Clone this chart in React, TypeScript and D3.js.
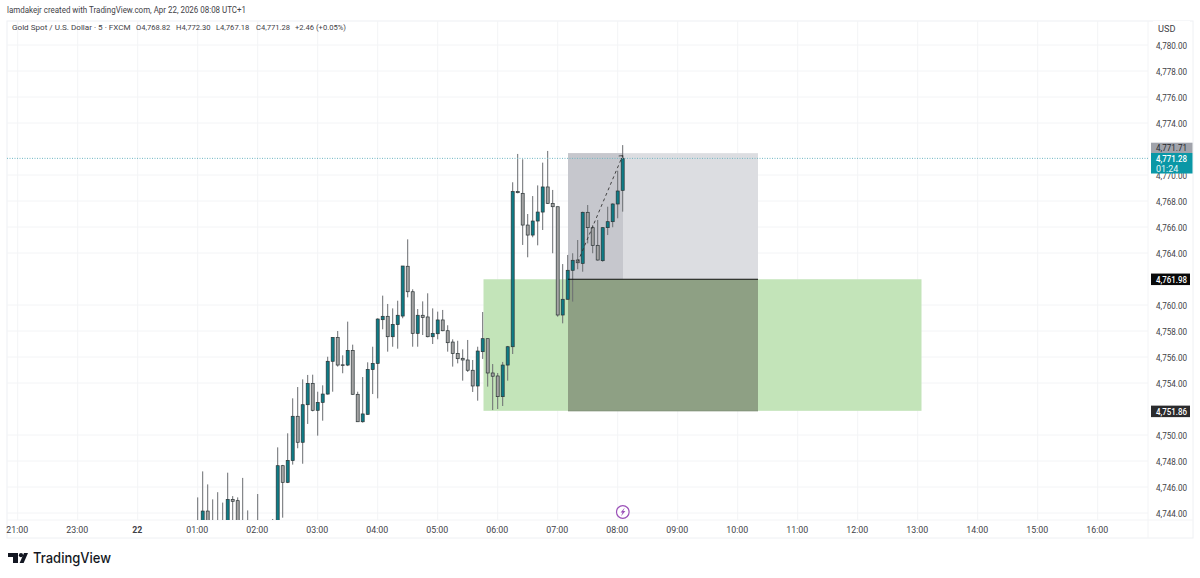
import React from "react";
import * as d3 from "d3";

const opens = [4742.9,4742.5,4744.15,4743.2,4743.1,4743.0,4743.0,4745.05,4744.95,4743.0,4743.0,4743.0,4743.1,4742.9,4742.8,4742.9,4742.9,4747.64,4746.36,4748.03,4751.44,4749.44,4752.33,4753.97,4751.9,4752.51,4753.15,4755.67,4757.5,4755.4,4755.38,4756.51,4753.13,4751.02,4751.59,4755.03,4755.51,4758.87,4759.13,4757.56,4758.49,4759.15,4762.98,4761.02,4757.82,4759.21,4759.08,4757.56,4757.79,4758.85,4758.02,4757.15,4756.28,4755.9,4755.77,4754.98,4753.77,4756.41,4757.41,4754.77,4754.54,4752.95,4755.38,4756.79,4768.72,4768.59,4766.15,4765.38,4766.46,4767.15,4769.08,4767.82,4767.56,4759.23,4760.44,4762.67,4763.46,4763.2,4767.13,4765.95,4764.59,4763.41,4765.95,4766.41,4767.77,4768.82];
const highs = [4745.2,4747.2,4746.2,4745.05,4745.6,4744.8,4747.1,4745.3,4745.2,4746.7,4744.2,4743.2,4745.46,4743.2,4743.1,4743.54,4749.05,4747.7,4750.13,4752.82,4753.69,4754.28,4754.62,4754.64,4753.33,4753.82,4756.02,4757.52,4758.0,4756.13,4758.72,4756.95,4753.33,4754.46,4755.59,4756.79,4758.98,4760.72,4760.08,4759.74,4760.33,4763.0,4765.05,4761.21,4759.69,4760.28,4760.9,4759.74,4759.49,4759.62,4758.44,4757.36,4757.25,4756.59,4757.31,4755.77,4756.79,4759.46,4757.41,4755.46,4754.77,4755.62,4756.85,4769.44,4771.62,4771.21,4767.0,4768.38,4769.2,4770.95,4771.85,4768.85,4767.56,4763.15,4763.85,4763.98,4765.0,4767.18,4767.69,4766.15,4766.54,4765.98,4767.56,4767.82,4770.33,4772.3];
const lows = [4742.0,4742.0,4742.0,4742.5,4742.4,4742.3,4742.5,4742.8,4742.4,4742.3,4742.5,4742.4,4742.5,4742.4,4742.3,4742.4,4742.5,4743.64,4746.3,4747.72,4748.98,4747.79,4750.85,4751.82,4749.95,4751.1,4753.1,4753.33,4755.26,4754.75,4755.3,4753.1,4751.0,4750.95,4751.55,4753.15,4752.82,4758.13,4756.41,4756.79,4756.64,4758.98,4760.59,4756.79,4756.79,4757.69,4757.51,4757.0,4757.36,4757.98,4756.41,4755.26,4755.51,4754.18,4754.85,4753.31,4752.64,4755.85,4753.72,4751.92,4752.0,4752.23,4754.18,4756.23,4768.59,4764.62,4763.67,4765.21,4764.59,4765.77,4767.77,4763.98,4759.1,4758.59,4760.44,4760.26,4762.75,4762.56,4764.74,4763.98,4763.41,4763.33,4765.38,4765.98,4766.67,4767.18];
const closes = [4742.5,4744.15,4742.6,4742.9,4742.8,4742.7,4745.05,4744.9,4742.9,4742.7,4742.8,4742.8,4742.8,4742.6,4742.6,4742.7,4747.64,4746.36,4748.05,4751.44,4749.44,4752.33,4753.97,4751.9,4752.51,4753.15,4755.67,4757.5,4755.38,4755.35,4756.51,4753.13,4751.02,4751.62,4755.05,4755.51,4758.92,4759.13,4757.56,4758.51,4759.21,4763.0,4761.02,4757.82,4759.21,4759.05,4757.56,4757.82,4758.85,4758.02,4757.1,4756.26,4755.87,4755.77,4754.98,4753.77,4756.46,4757.41,4754.77,4754.52,4752.95,4755.38,4756.79,4768.72,4768.64,4766.15,4765.38,4766.46,4767.15,4769.08,4767.82,4767.56,4759.23,4760.44,4762.67,4763.44,4763.25,4767.13,4765.95,4764.59,4763.46,4765.95,4766.41,4767.77,4768.77,4771.28];

const priceTicks = [4780,4778,4776,4774,4770,4768,4766,4764,4760,4758,4756,4754,4750,4748,4746,4744];
const timeTicks: [number, string, boolean][] = [
  [-36,"21:00",false],[-24,"23:00",false],[-12,"22",true],[0,"01:00",false],[12,"02:00",false],[24,"03:00",false],
  [36,"04:00",false],[48,"05:00",false],[60,"06:00",false],[72,"07:00",false],[84,"08:00",false],[96,"09:00",false],
  [108,"10:00",false],[120,"11:00",false],[132,"12:00",false],[144,"13:00",false],[156,"14:00",false],[168,"15:00",false],[180,"16:00",false],
];
const legendValues: [number, string][] = [[136,"O4,768.82"],[176,"H4,772.30"],[216,"L4,767.18"],[256,"C4,771.28"],[295,"+2.46 (+0.05%)"]];

const lastPrice = 4771.28;
const markerPrice = 4771.71;
const entryPrice = 4761.98;
const stopPrice = 4751.86;
const zoneTop = 4771.68;
const arrowFrom: [number, number] = [76, 4763.3];
const arrowTo: [number, number] = [85, 4771.5];

const x = d3.scaleLinear().domain([0, 85]).range([197.7, 622.7]);
const y = d3.scaleLinear().domain([4780, 4744]).range([45, 513]);
const fmt = d3.format(",.2f");

const FONT = "Roboto, 'Noto Sans', sans-serif";
const TEXT = "#3f4247";
const LABEL_W = 31;

export default function App() {
  const left = 7, right = 1148, top = 21, paneBottom = 520, frameBottom = 538;
  const priceText = (p: number, fill: string, yy: number, weight = 400) => (
    <text x={1156} y={yy} fontSize={9} fontWeight={weight} fill={fill} textLength={LABEL_W} lengthAdjust="spacingAndGlyphs">{fmt(p)}</text>
  );
  return (
    <svg width={1200} height={578} viewBox="0 0 1200 578"
      style={{ position: "absolute", left: 0, top: 0, display: "block", background: "#fff" }} fontFamily={FONT}>
      <defs>
        <clipPath id="pane"><rect x={left} y={top} width={right - left} height={paneBottom - top} /></clipPath>
      </defs>

      <text x={7} y={13} fontSize={9.2} fill={TEXT} textLength={239} lengthAdjust="spacingAndGlyphs">lamdakejr created with TradingView.com, Apr 22, 2026 08:08 UTC+1</text>

      {/* frame */}
      <rect x={left} y={top} width={1193 - left} height={frameBottom - top} fill="none" stroke="#eef0f3" />
      <line x1={right} x2={right} y1={top} y2={frameBottom} stroke="#f3f4f6" />
      <line x1={left} x2={1193} y1={paneBottom} y2={paneBottom} stroke="#f3f4f6" />

      {/* grid */}
      {priceTicks.map(p => <line key={p} x1={left} x2={right} y1={y(p)} y2={y(p)} stroke="#f3f4f6" />)}
      {timeTicks.map(([i, l]) => <line key={l} x1={x(i)} x2={x(i)} y1={top} y2={paneBottom} stroke="#f3f4f6" />)}

      {/* position tools */}
      <rect x={483.5} y={y(entryPrice)} width={438} height={y(stopPrice) - y(entryPrice)} fill="#c3e4b9" />
      <rect x={568} y={y(zoneTop)} width={190} height={y(entryPrice) - y(zoneTop)} fill="#dcdde1" />
      <rect x={568} y={y(zoneTop)} width={55} height={y(entryPrice) - y(zoneTop)} fill="#c6c7cd" />
      <rect x={568} y={y(entryPrice)} width={190} height={y(stopPrice) - y(entryPrice)} fill="#8ea084" />
      <line x1={568} x2={758} y1={y(stopPrice)} y2={y(stopPrice)} stroke="#7f8f77" />

      {/* candles */}
      <g clipPath="url(#pane)">
        {opens.map((o, i) => {
          const c = closes[i], up = c >= o;
          const t = y(Math.max(o, c)), b = y(Math.min(o, c));
          return (
            <g key={i}>
              <line x1={x(i)} x2={x(i)} y1={y(highs[i])} y2={y(lows[i])} stroke="#6a6d70" strokeWidth={1} />
              <rect x={x(i) - 1.5} y={t} width={3} height={Math.max(b - t, 0.8)}
                fill={up ? "#0e7c86" : "#a4a4a4"} stroke="#2a3335" strokeWidth={0.7} />
            </g>
          );
        })}
      </g>

      <line x1={568} x2={758} y1={y(entryPrice)} y2={y(entryPrice)} stroke="#111" strokeWidth={1} />

      {/* dashed arrow */}
      <line x1={x(arrowFrom[0])} y1={y(arrowFrom[1])} x2={x(arrowTo[0])} y2={y(arrowTo[1])}
        stroke="#333" strokeWidth={0.9} strokeDasharray="3 3" />
      <path d={`M${x(arrowTo[0]) - 4},${y(arrowTo[1]) + 0.5} L${x(arrowTo[0])},${y(arrowTo[1])} L${x(arrowTo[0]) + 0.5},${y(arrowTo[1]) + 4}`}
        fill="none" stroke="#333" strokeWidth={0.8} />

      {/* last price line */}
      <line x1={left} x2={right} y1={y(lastPrice)} y2={y(lastPrice)} stroke="#6fb6c2" strokeWidth={1} strokeDasharray="1 1.5" />

      {/* legend */}
      <text x={12} y={30.2} fontSize={8.1} fill={TEXT}>Gold Spot / U.S. Dollar · 5 · FXCM</text>
      {legendValues.map(([px, s]) => <text key={s} x={px} y={30.2} fontSize={7.6} fill={TEXT}>{s}</text>)}

      {/* price axis */}
      <rect x={1153} y={21} width={37} height={15} fill="#fff" />
      <text x={1158} y={32} fontSize={9.2} fill={TEXT}>USD</text>
      {priceTicks.map(p => <React.Fragment key={p}>{priceText(p, TEXT, y(p) + 4.2)}</React.Fragment>)}

      <rect x={1151} y={142.7} width={41.5} height={10.3} fill="#a0a3ab" />
      {priceText(markerPrice, "#26282c", 151.2)}
      <rect x={1151} y={153} width={41.5} height={20.5} fill="#0a97a6" />
      {priceText(lastPrice, "#fff", 161.6, 500)}
      <text x={1156} y={171.5} fontSize={9} fill="#e6f6f8">01:24</text>

      <rect x={1151} y={y(entryPrice) - 5.7} width={39} height={11.5} fill="#0a0a0a" />
      {priceText(entryPrice, "#fff", y(entryPrice) + 3.6, 500)}
      <rect x={1151} y={y(stopPrice) - 5.2} width={39} height={11.5} fill="#2b2b2d" />
      {priceText(stopPrice, "#fff", y(stopPrice) + 3.9, 500)}

      {/* time axis */}
      {timeTicks.map(([i, l, bold]) => (
        <text key={l} x={x(i) - 0.4} y={532.5} textAnchor="middle" fontSize={8.8} fontWeight={bold ? 700 : 400} fill={TEXT}>{l}</text>
      ))}

      {/* event marker */}
      <circle cx={622.8} cy={512} r={6.3} fill="#fff" stroke="#9b51b8" strokeWidth={1.2} />
      <path d="M624.8,507.6 L620.6,512.6 L622.6,512.6 L621,516.2 L625.4,511 L623.2,511 Z" fill="#9b51b8" />

      {/* logo */}
      <path d="M8,553 H18 V563 H13 V557 H8 Z" fill="#131722" />
      <circle cx={21} cy={555.2} r={2.1} fill="#131722" />
      <path d="M24,553 H28 L23.6,563 H19.6 Z" fill="#131722" />
      <text x={33} y={563} fontSize={14.6} fontWeight={500} fontFamily="Inter, Roboto, sans-serif" fill="#131722" textLength={78} lengthAdjust="spacingAndGlyphs">TradingView</text>
    </svg>
  );
}
